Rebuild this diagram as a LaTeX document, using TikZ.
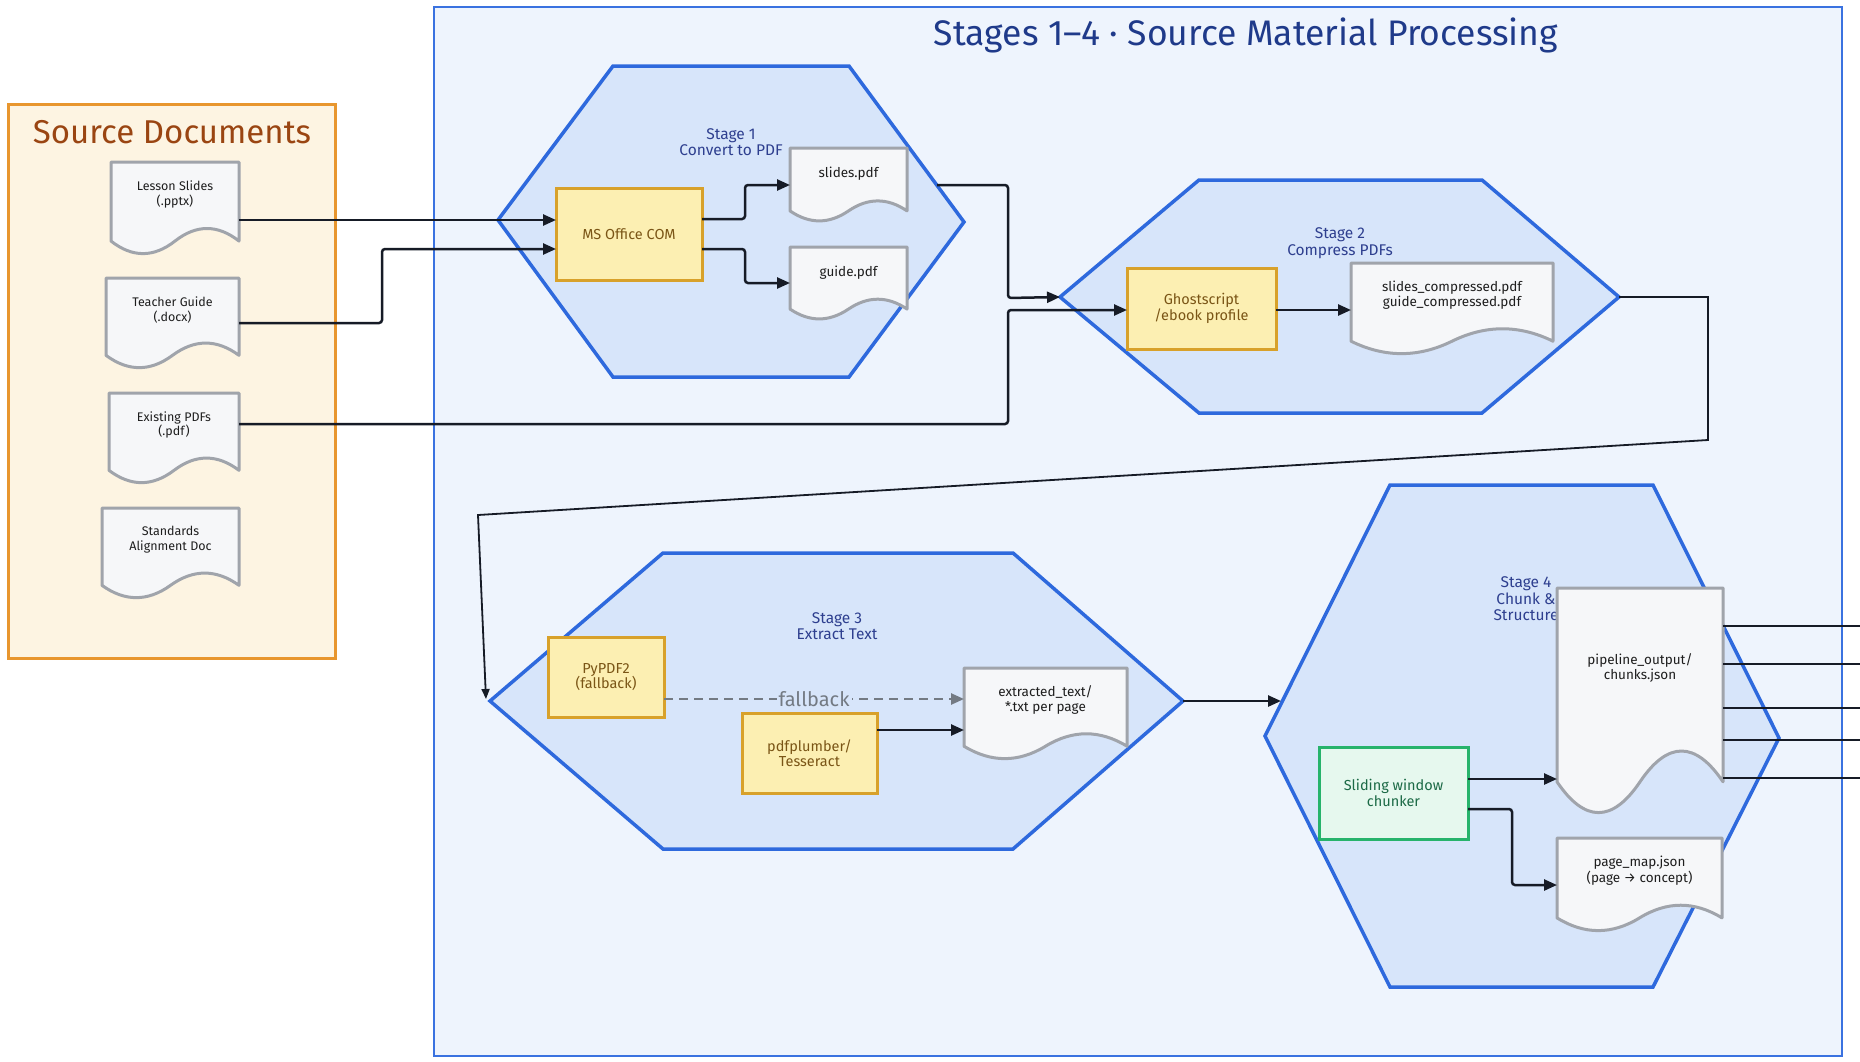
\documentclass[tikz,border=0pt]{standalone}
\usepackage{fontspec}
\setmainfont{Fira Sans}
\usetikzlibrary{arrows.meta,calc}

\definecolor{framefill}{HTML}{EEF4FD}
\definecolor{framedraw}{HTML}{3A72E0}
\definecolor{hexfill}{HTML}{D7E5FA}
\definecolor{hexdraw}{HTML}{2E69DD}
\definecolor{srcfill}{HTML}{FDF4E2}
\definecolor{srcdraw}{HTML}{E8962E}
\definecolor{srctitlecol}{HTML}{9A4512}
\definecolor{titlecol}{HTML}{1F3A8A}
\definecolor{stagecol}{HTML}{2E3F8F}
\definecolor{yfill}{HTML}{FCEFB2}
\definecolor{ydraw}{HTML}{D8A12A}
\definecolor{ytext}{HTML}{7A5516}
\definecolor{gfill}{HTML}{E6F8EE}
\definecolor{gdraw}{HTML}{27B36B}
\definecolor{gtext}{HTML}{1C6A46}
\definecolor{docfill}{HTML}{F6F7F9}
\definecolor{docdraw}{HTML}{A0A4AB}
\definecolor{doctextcol}{HTML}{1E1E1E}
\definecolor{linecol}{HTML}{161B26}
\definecolor{fbcol}{HTML}{737A83}

\tikzset{
  srcbox/.style={rectangle, fill=srcfill, draw=srcdraw, line width=3pt, inner sep=0pt, outer sep=0pt},
  framebox/.style={rectangle, fill=framefill, draw=framedraw, line width=2pt, inner sep=0pt, outer sep=0pt},
  srctitle/.style={text=srctitlecol, font=\fontsize{33}{36}\selectfont, inner sep=0pt},
  maintitle/.style={text=titlecol, font=\fontsize{35.5}{38}\selectfont, inner sep=0pt},
  hexa/.style={fill=hexfill, draw=hexdraw, line width=3.5pt, line join=miter},
  stagelabel/.style={text=stagecol, align=center, font=\fontsize{15.5}{16.5}\selectfont, inner sep=0pt},
  ybox/.style={rectangle, fill=yfill, draw=ydraw, line width=3pt, text=ytext, align=center, font=\fontsize{14.5}{15.5}\selectfont, inner sep=0pt, outer sep=0pt},
  gbox/.style={rectangle, fill=gfill, draw=gdraw, line width=3pt, text=gtext, align=center, font=\fontsize{14.5}{15.5}\selectfont, inner sep=0pt, outer sep=0pt},
  docpath/.style={fill=docfill, draw=docdraw, line width=3pt, line join=round},
  docbox/.style={rectangle, draw=none, inner sep=0pt, outer sep=0pt},
  doclabel/.style={text=doctextcol, align=center, font=\fontsize{13.5}{15.5}\selectfont, inner sep=0pt},
  srcdoclabel/.style={text=doctextcol, align=center, font=\fontsize{12.5}{14.5}\selectfont, inner sep=0pt},
  conn/.style={draw=linecol, line width=2.5pt, rounded corners=3pt, -{Triangle[length=13pt,width=11pt]}},
  thinconn/.style={draw=linecol, line width=1.8pt, -{Triangle[length=10pt,width=8pt]}},
  plainconn/.style={draw=linecol, line width=2.5pt},
  fbconn/.style={draw=fbcol, line width=2.5pt, dash pattern=on 9pt off 6pt, -{Triangle[length=13pt,width=11pt]}},
  fblabel/.style={text=fbcol, fill=hexfill, font=\fontsize{20}{22}\selectfont, inner sep=2pt}
}

% document shape: #1 name, #2 left, #3 top, #4 right, #5 bottom, #6 label style, #7 text
\newcommand\mydocshape[7]{%
  \pgfmathsetmacro\dL{#2}\pgfmathsetmacro\dT{#3}%
  \pgfmathsetmacro\dR{#4}\pgfmathsetmacro\dB{#5}%
  \pgfmathsetmacro\dY{0.3*(\dB-\dT)}%
  \pgfmathsetmacro\yE{\dB-0.5*\dY}%
  \pgfmathsetmacro\yP{\dB-1.4*\dY}%
  \pgfmathsetmacro\yQ{\dB+0.4*\dY}%
  \pgfmathsetmacro\xM{(\dL+\dR)/2}%
  \pgfmathsetmacro\xP{\dL+0.75*(\dR-\dL)}%
  \pgfmathsetmacro\xQ{\dL+0.25*(\dR-\dL)}%
  \pgfmathsetmacro\aX{\dR+2/3*(\xP-\dR)}%
  \pgfmathsetmacro\aY{\yE+2/3*(\yP-\yE)}%
  \pgfmathsetmacro\bX{\xM+2/3*(\xP-\xM)}%
  \pgfmathsetmacro\cX{\xM+2/3*(\xQ-\xM)}%
  \pgfmathsetmacro\cY{\yE+2/3*(\yQ-\yE)}%
  \pgfmathsetmacro\eX{\dL+2/3*(\xQ-\dL)}%
  \pgfmathsetmacro\wW{\dR-\dL}%
  \pgfmathsetmacro\hH{\dB-\dT}%
  \pgfmathsetmacro\cyy{(\dT+\dB)/2}%
  \pgfmathsetmacro\ty{\dT+0.35*(\dB-\dT)}%
  \path[docpath] (\dL,\dT) -- (\dR,\dT) -- (\dR,\yE)
     .. controls (\aX,\aY) and (\bX,\aY) .. (\xM,\yE)
     .. controls (\cX,\cY) and (\eX,\cY) .. (\dL,\yE) -- cycle;
  \node[docbox, minimum width=\wW, minimum height=\hH] (#1) at (\xM,\cyy) {};
  \node[#6] (#1-text) at (\xM,\ty) {#7};
}

\begin{document}
\begin{tikzpicture}[x=1pt,y=-1pt]
\useasboundingbox (0,0) rectangle (1860,1061);
\fill[white] (0,0) rectangle (1860,1061);

% ---------- Source documents ----------
\node[srcbox, minimum width=327, minimum height=554] (srcbox) at (171.5,381) {};
\node[srctitle] (srctitle) at (172,132) {Source Documents};
\mydocshape{lesson}{111}{162}{239}{255}{srcdoclabel}{Lesson Slides\\(.pptx)}
\mydocshape{teacher}{106}{278}{239}{369}{srcdoclabel}{Teacher Guide\\(.docx)}
\mydocshape{existing}{109}{393}{239}{484}{srcdoclabel}{Existing PDFs\\(.pdf)}
\mydocshape{standards}{102}{508}{239}{599}{srcdoclabel}{Standards\\Alignment Doc}

% ---------- Main frame ----------
\node[framebox, minimum width=1408, minimum height=1049] (frame) at (1138,531.5) {};
\node[maintitle] (title) at (1246,35) {Stages 1–4 · Source Material Processing};

% ---------- Hexagons ----------
\coordinate (h1L) at (498,220); \coordinate (h1TL) at (613,66); \coordinate (h1TR) at (849,66);
\coordinate (h1R) at (964,222); \coordinate (h1BR) at (849,377); \coordinate (h1BL) at (613,377);
\draw[hexa] (h1L) -- (h1TL) -- (h1TR) -- (h1R) -- (h1BR) -- (h1BL) -- cycle;

\coordinate (h2L) at (1060,297); \coordinate (h2TL) at (1199,180); \coordinate (h2TR) at (1482,180);
\coordinate (h2R) at (1619,297); \coordinate (h2BR) at (1482,413); \coordinate (h2BL) at (1199,413);
\draw[hexa] (h2L) -- (h2TL) -- (h2TR) -- (h2R) -- (h2BR) -- (h2BL) -- cycle;

\coordinate (h3L) at (490,701); \coordinate (h3TL) at (663,553); \coordinate (h3TR) at (1013,553);
\coordinate (h3R) at (1183,701); \coordinate (h3BR) at (1013,849); \coordinate (h3BL) at (663,849);
\draw[hexa] (h3L) -- (h3TL) -- (h3TR) -- (h3R) -- (h3BR) -- (h3BL) -- cycle;

\coordinate (h4L) at (1265,736); \coordinate (h4TL) at (1390,485); \coordinate (h4TR) at (1653,485);
\coordinate (h4R) at (1779,738); \coordinate (h4BR) at (1653,987); \coordinate (h4BL) at (1390,987);
\draw[hexa] (h4L) -- (h4TL) -- (h4TR) -- (h4R) -- (h4BR) -- (h4BL) -- cycle;

% ---------- Stage labels ----------
\node[stagelabel] (s1lab) at (731,142) {Stage 1\\Convert to PDF};
\node[stagelabel] (s2lab) at (1340,243) {Stage 2\\Compress PDFs};
\node[stagelabel] (s3lab) at (837,626) {Stage 3\\Extract Text};
\node[stagelabel] (s4lab) at (1526,599) {Stage 4\\Chunk \&\\Structure};

% ---------- Stage 1 ----------
\node[ybox, minimum width=146, minimum height=92] (msoffice) at (629,234) {MS Office COM};
\mydocshape{slides}{790}{148}{907}{222}{doclabel}{slides.pdf}
\mydocshape{guide}{790}{247}{907}{320}{doclabel}{guide.pdf}

% ---------- Stage 2 ----------
\node[ybox, minimum width=149, minimum height=81] (ghost) at (1201.5,308.5) {Ghostscript\\/ebook profile};
\mydocshape{comp}{1351}{263}{1553}{355}{doclabel}{slides\_compressed.pdf\\guide\_compressed.pdf}

% ---------- Stage 3 ----------
\node[ybox, minimum width=116, minimum height=80] (pypdf) at (606,677) {PyPDF2\\(fallback)};
\node[ybox, minimum width=135, minimum height=80] (pdfpl) at (809.5,753) {pdfplumber/\\Tesseract};
\mydocshape{extracted}{964}{668}{1127}{760}{doclabel}{extracted\_text/\\*.txt per page}

% ---------- Stage 4 ----------
\node[gbox, minimum width=149, minimum height=92] (sliding) at (1393.5,793) {Sliding window\\chunker};
\mydocshape{pipeline}{1557}{588}{1723}{816}{doclabel}{pipeline\_output/\\chunks.json}
\mydocshape{pagemap}{1557}{838}{1722}{932}{doclabel}{page\_map.json\\(page → concept)}

% ---------- Connectors ----------
\draw[conn] (lesson.east |- 0,220) -- (msoffice.west |- 0,220);
\draw[conn] (teacher.east |- 0,323) -- (382,323) -- (382,249) -- (msoffice.west |- 0,249);
\draw[conn] (existing.east |- 0,424) -- (1008,424) -- (1008,310) -- (ghost.west |- 0,310);

\draw[conn] (msoffice.east |- 0,219) -- (745,219) -- (745,185) -- (slides.west |- 0,185);
\draw[conn] (msoffice.east |- 0,249) -- (745,249) -- (745,283) -- (guide.west |- 0,283);

\coordinate (h1out) at (937,185);
\draw[conn] (h1out) -- (1008,185) -- (1008,298) -- (h2L);

\draw[conn] (ghost.east |- 0,310) -- (comp.west |- 0,310);

\draw[thinconn] (h2R) -- (1708,297) -- (1708,440) -- (478,515) -- (486,699);

\draw[fbconn] (pypdf.east |- 0,699) -- node[fblabel] (fbtext) {fallback} (extracted.west |- 0,699);
\draw[conn] (pdfpl.east |- 0,730) -- (extracted.west |- 0,730);

\coordinate (h4in) at (1281,701);
\draw[conn] (h3R) -- (h4in);

\draw[conn] (sliding.east |- 0,779) -- (pipeline.west |- 0,779);
\draw[conn] (sliding.east |- 0,809) -- (1512,809) -- (1512,885) -- (pagemap.west |- 0,885);

\coordinate (out1) at (1860,626);
\coordinate (out2) at (1860,664);
\coordinate (out3) at (1860,708);
\coordinate (out4) at (1860,740);
\coordinate (out5) at (1860,778);
\draw[plainconn] (pipeline.east |- out1) -- (out1);
\draw[plainconn] (pipeline.east |- out2) -- (out2);
\draw[plainconn] (pipeline.east |- out3) -- (out3);
\draw[plainconn] (pipeline.east |- out4) -- (out4);
\draw[plainconn] (pipeline.east |- out5) -- (out5);
\end{tikzpicture}
\end{document}
